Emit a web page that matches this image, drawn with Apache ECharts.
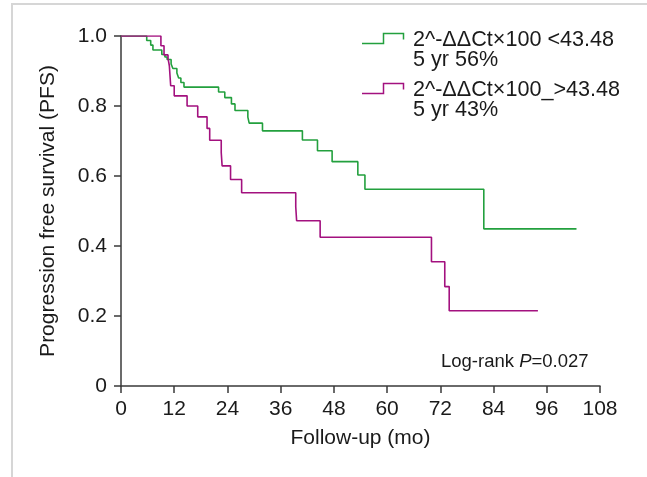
<!DOCTYPE html>
<html>
<head>
<meta charset="utf-8">
<script src="https://cdn.jsdelivr.net/npm/echarts@6/dist/echarts.min.js"></script>
<style>
    html, body { margin: 0; padding: 0; background: #fff; }
    #chart_div { width: 647px; height: 477px; }
</style>
</head>
<body>
<div id="chart_div"></div>
<script>
// ----------- 数据 -----------
// 低表达组 (绿色)
var low_month = [0, 5.8, 6.7, 7.2, 9.2, 9.9, 10.4, 11.3, 11.7, 12.6, 13.0, 13.5, 14.2, 22.0, 23.4, 24.9, 25.7, 28.6, 28.9, 31.9, 40.9, 44.3, 47.6, 53.4, 55.0, 81.8, 102.7]
var low_pfs = [1.0, 0.987, 0.974, 0.960, 0.947, 0.940, 0.933, 0.920, 0.907, 0.894, 0.880, 0.867, 0.854, 0.840, 0.824, 0.806, 0.787, 0.768, 0.751, 0.729, 0.703, 0.672, 0.641, 0.603, 0.562, 0.449, 0.449]
// 高表达组 (紫红)
var high_month = [0, 9.0, 9.7, 10.6, 10.9, 11.2, 12.0, 14.9, 17.3, 19.4, 20.0, 22.6, 22.8, 24.7, 27.2, 39.4, 39.6, 44.9, 70.0, 73.0, 74.0, 94.0]
var high_pfs = [1.0, 0.972, 0.946, 0.936, 0.915, 0.858, 0.829, 0.800, 0.769, 0.736, 0.702, 0.667, 0.629, 0.590, 0.552, 0.512, 0.472, 0.425, 0.355, 0.284, 0.215, 0.215]

var series_names = ["2^-ΔΔCt×100 <43.48", "2^-ΔΔCt×100_>43.48"]
var series_notes = ["5 yr 56%", "5 yr 43%"]
var colorList = ['#23a03e', '#a3117f']

var font_family = '"Liberation Sans", Arial, sans-serif'
var text_color = '#1a1a1a'

// 组合成 [x, y]
function to_pairs(xs, ys) {
    var out = []
    for (var i = 0; i < xs.length; i++) {
        out.push([xs[i], ys[i]])
    }
    return out
}

// 图例: 阶梯图标 + 两行文字
function legend_item(top, color, name, note) {
    return [
        {
            type: 'polyline',
            shape: { points: [[362, top + 14], [383.5, top + 14], [383.5, top + 4], [403.5, top + 4], [403.5, top + 10]] },
            style: { stroke: color, lineWidth: 1.5, fill: null }
        },
        {
            type: 'text',
            x: 413,
            y: top,
            style: {
                text: name + '\n' + note,
                font: '21.6px ' + font_family,
                lineHeight: 20.5,
                fill: text_color,
                verticalAlign: 'top'
            }
        }
    ]
}

var chart = echarts.init(document.getElementById('chart_div'))

var option = {
    animation: false,
    grid: { left: 121, right: 47, top: 36, bottom: 91 },
    xAxis: {
        type: 'value',
        min: 0,
        max: 108,
        interval: 12,
        name: 'Follow-up (mo)',
        nameLocation: 'middle',
        nameGap: 42,
        nameTextStyle: { fontSize: 21, color: text_color, fontFamily: font_family },
        axisLine: { lineStyle: { color: '#3a3a3a', width: 1.5 } },
        axisTick: { length: 7, lineStyle: { color: '#3a3a3a', width: 1.5 } },
        axisLabel: { fontSize: 21, color: text_color, fontFamily: font_family, margin: 13 },
        splitLine: { show: false }
    },
    yAxis: {
        type: 'value',
        min: 0,
        max: 1,
        interval: 0.2,
        name: 'Progression free survival (PFS)',
        nameLocation: 'middle',
        nameGap: 62,
        nameTextStyle: { fontSize: 21, color: text_color, fontFamily: font_family },
        axisLine: { show: true, lineStyle: { color: '#3a3a3a', width: 1.5 } },
        axisTick: { show: true, length: 7, lineStyle: { color: '#3a3a3a', width: 1.5 } },
        axisLabel: {
            fontSize: 21, color: text_color, fontFamily: font_family, margin: 14,
            formatter: function (value) {
                return value == 0 ? '0' : value.toFixed(1)
            }
        },
        splitLine: { show: false }
    },
    series: [
        {
            name: series_names[0],
            type: 'line',
            step: 'end',
            symbol: 'none',
            data: to_pairs(low_month, low_pfs),
            lineStyle: { color: colorList[0], width: 1.6 }
        },
        {
            name: series_names[1],
            type: 'line',
            step: 'end',
            symbol: 'none',
            data: to_pairs(high_month, high_pfs),
            lineStyle: { color: colorList[1], width: 1.6 }
        }
    ],
    graphic: [
        // 外框
        {
            type: 'rect',
            shape: { x: 12, y: 4, width: 700, height: 500 },
            style: { stroke: '#d6d6d6', lineWidth: 2, fill: null },
            silent: true
        },
        {
            type: 'text',
            x: 441,
            y: 362,
            style: {
                rich: {
                    a: { fontSize: 18.5, fontFamily: font_family, fill: text_color },
                    i: { fontSize: 18.5, fontFamily: font_family, fontStyle: 'italic', fill: text_color }
                },
                text: '{a|Log-rank }{i|P}{a|=0.027}',
                verticalAlign: 'middle'
            }
        }
    ].concat(legend_item(29.5, colorList[0], series_names[0], series_notes[0]))
     .concat(legend_item(79.5, colorList[1], series_names[1], series_notes[1]))
}

chart.setOption(option)
</script>
</body>
</html>
